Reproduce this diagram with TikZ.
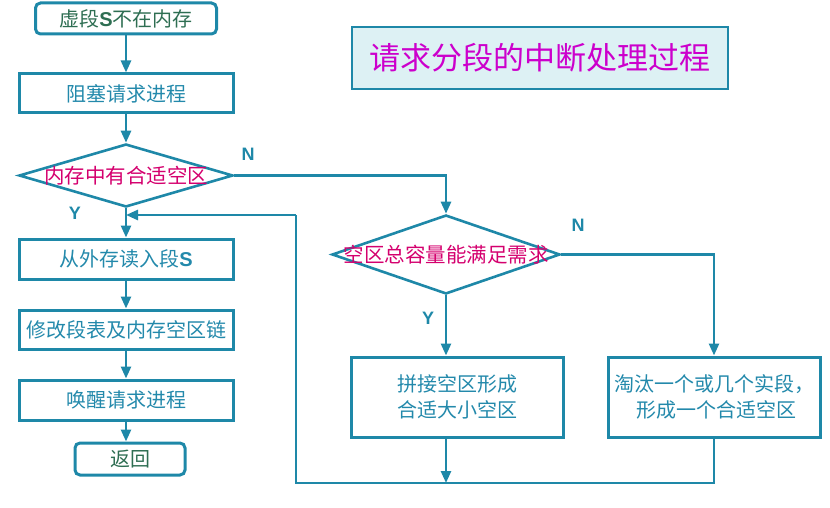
\documentclass[tikz,border=0pt]{standalone}
\usepackage{fontspec}
\setmainfont{Noto Sans CJK SC}
\newfontfamily\lat{Liberation Sans}
\usetikzlibrary{shapes.geometric,arrows.meta}

\definecolor{flowline}{HTML}{1E88A8}
\definecolor{boxtext}{HTML}{2389AB}
\definecolor{starttext}{HTML}{2E6E52}
\definecolor{difftext}{HTML}{D4006E}
\definecolor{titletext}{HTML}{CC00CC}
\definecolor{titlefill}{HTML}{DDF1F4}

\begin{document}
\begin{tikzpicture}[x=1pt, y=-1pt, line join=miter,
  box/.style={draw=flowline, line width=3pt, rectangle, inner sep=0pt, text=boxtext,
    font=\fontsize{20}{26}\selectfont, align=center, minimum width=214pt, minimum height=39pt},
  endbox/.style={box, rounded corners=5pt, text=starttext},
  decision/.style={draw=flowline, line width=2.6pt, diamond, inner sep=0pt},
  dtext/.style={text=difftext, font=\fontsize{20.5}{24}\selectfont, inner sep=0pt},
  yn/.style={text=flowline, font=\lat\bfseries\fontsize{18}{20}\selectfont, inner sep=0pt},
  arrow/.style={draw=flowline, line width=2.6pt, -{Triangle[width=10pt,length=12pt]}},
  link/.style={draw=flowline, line width=2.6pt}]

  %% ════ 背景：钉死画布 ════
  \path[use as bounding box] (0,0) rectangle (830,508);

  %% ════ 标题 ════
  \node[draw=flowline, line width=1.5pt, fill=titlefill, minimum width=376pt, minimum height=62pt,
        inner sep=0pt, text=titletext, font=\fontsize{31}{36}\selectfont] (title) at (540,58) {请求分段的中断处理过程};

  %% ════ 左列 ════
  \node[endbox, minimum width=181pt, minimum height=31pt] (start) at (126,18.5) {虚段{\lat\bfseries S}不在内存};
  \node[box] (block) at (126,93.5) {阻塞请求进程};
  \node[decision, minimum width=214pt, minimum height=63pt,
        label={[dtext, name=fitlbl]center:内存中有合适空区}] (fit) at (126,175.5) {};
  \node[box, minimum height=40pt] (load) at (126,259) {从外存读入段{\lat\bfseries S}};
  \node[box] (update) at (126,329.5) {修改段表及内存空区链};
  \node[box, minimum height=40pt] (wake) at (126,400) {唤醒请求进程};
  \node[endbox, minimum width=110pt, minimum height=32pt] (ret) at (130,459) {返回};

  %% ════ 右侧 ════
  \node[decision, minimum width=228pt, minimum height=79pt,
        label={[dtext, name=totallbl]center:空区总容量能满足需求}] (total) at (446,254.5) {};
  \node[box, minimum width=212pt, minimum height=80pt] (merge) at (457,397) {拼接空区形成\\合适大小空区};
  \node[box, minimum width=212pt, minimum height=80pt] (evict) at (714,397) {淘汰一个或几个实段，\\\ 形成一个合适空区};

  %% ════ Y / N ════
  \node[yn] (n1) at (248,154) {N};
  \node[yn] (y1) at (75,213) {Y};
  \node[yn] (n2) at (578,225) {N};
  \node[yn] (y2) at (428,318) {Y};

  \coordinate (lr) at (296,483);
  \coordinate (ul) at (296,215);

  %% ════ 连线 ════
  \draw[arrow] (start) -- (block);
  \draw[arrow] (block) -- (fit);
  \draw[arrow] (fit) -- (load);
  \draw[arrow] (load) -- (update);
  \draw[arrow] (update) -- (wake);
  \draw[arrow] (wake.south) -- (wake.south |- ret.north);
  \draw[arrow] (fit.east) -| (total.north);
  \draw[arrow] (total.east) -| (evict.north);
  \draw[arrow] (total.south) -- (total.south |- merge.north);
  \draw[arrow] (merge.south -| total.south) -- (total.south |- lr);
  \draw[link] (evict.south) |- (lr) -- (ul);
  \draw[arrow] (ul) -- (ul -| load.north);
\end{tikzpicture}
\end{document}
